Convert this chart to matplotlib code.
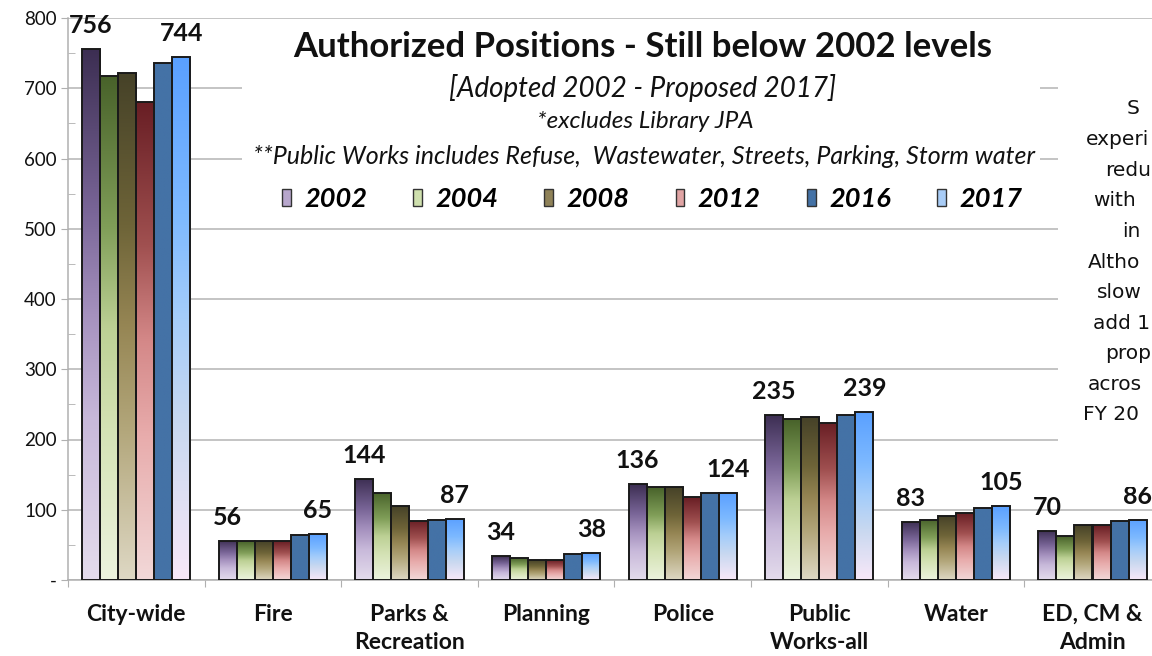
import numpy as np
import matplotlib
matplotlib.use("Agg")
import matplotlib.pyplot as plt
from matplotlib.colors import LinearSegmentedColormap
from matplotlib.patches import Rectangle, Patch

# ---------------- data ----------------
categories = ["City-wide", "Fire", "Parks &\nRecreation", "Planning", "Police",
              "Public\nWorks-all", "Water", "ED, CM &\nAdmin"]
years = ["2002", "2004", "2008", "2012", "2016", "2017"]
v2002 = [756, 56, 144, 34, 136, 235, 83, 70]
v2004 = [718, 55, 124, 31, 132, 229, 86, 62]
v2008 = [721, 55, 105, 28, 132, 232, 91, 78]
v2012 = [681, 55, 84, 28, 118, 224, 95, 78]
v2016 = [736, 64, 86, 37, 124, 235, 102, 84]
v2017 = [744, 65, 87, 38, 124, 239, 105, 86]
series = [v2002, v2004, v2008, v2012, v2016, v2017]
yticks = [0, 100, 200, 300, 400, 500, 600, 700, 800]
yticklabels = ["-", "100", "200", "300", "400", "500", "600", "700", "800"]

title = "Authorized Positions - Still below 2002 levels"
sub1 = "[Adopted 2002 - Proposed 2017]"
sub2 = "*excludes Library JPA"
sub3 = "**Public Works includes Refuse,  Wastewater, Streets, Parking, Storm water"
# visible part of the side note (the reference cuts it at the right edge)
side_lines = ["S", "experi", "redu", "with", "in", "Altho",
              "slow", "add 1", "prop", "acros", "FY 20"]

# ---------------- styles ----------------
pos = [0, 0.3, 0.5, 0.7, 1.0]  # bottom -> top
grads = [
    [(228, 220, 236), (200, 185, 218), (165, 145, 190), (120, 100, 150), (60, 46, 82)],
    [(236, 243, 222), (212, 226, 180), (188, 208, 148), (128, 158, 88), (72, 98, 42)],
    [(222, 216, 196), (178, 166, 122), (150, 134, 84), (110, 100, 56), (70, 66, 40)],
    [(242, 216, 216), (232, 172, 172), (212, 136, 136), (160, 80, 80), (104, 30, 36)],
    [(68, 114, 166), (68, 114, 166), (68, 114, 166), (68, 114, 166), (68, 114, 166)],
    [(248, 232, 248), (200, 216, 240), (165, 205, 250), (125, 185, 255), (90, 160, 255)],
]
legend_cols = ["#b7a6cc", "#cfe0ae", "#8f8258", "#e0a4a4", "#4472a6", "#a8ccf6"]

W, H = 1152, 656
fig = plt.figure(figsize=(W / 100, H / 100), dpi=100)
ax_left, ax_right, ax_top, ax_bot = 68, 68 + 8 * 136.6, 18, 580
ax = fig.add_axes([ax_left / W, 1 - ax_bot / H, (ax_right - ax_left) / W, (ax_bot - ax_top) / H])

FONT = "Lato"
bw = 0.1322
x = np.arange(len(categories))
for i, vals in enumerate(series):
    xs = x + (i - 2.5) * bw
    bars = ax.bar(xs, vals, width=bw, facecolor="none", edgecolor="#1a1a1a",
                  linewidth=1.4, zorder=3)
    cmap = LinearSegmentedColormap.from_list(
        "g%d" % i, list(zip(pos, [tuple(c / 255 for c in col) for col in grads[i]])))
    grad = np.linspace(0, 1, 256).reshape(-1, 1)
    for b in bars:
        bx, by, bwid, bh = b.get_x(), b.get_y(), b.get_width(), b.get_height()
        im = ax.imshow(grad, extent=[bx, bx + bwid, by, by + bh], origin="lower",
                       aspect="auto", cmap=cmap, vmin=0, vmax=1, zorder=2.5,
                       interpolation="bilinear")
        im.set_clip_path(b)
    if i in (0, 5):
        for b, v in zip(bars, vals):
            ax.annotate(str(v), (b.get_x() + b.get_width() / 2, v), xytext=(0, 11.5),
                        textcoords="offset points", ha="center", va="baseline",
                        fontsize=18, fontweight="bold", family=FONT, color="#111111",
                        zorder=5)

ax.set_xlim(-0.5, len(categories) - 0.5)
ax.set_ylim(0, 800)
ax.set_axisbelow(True)
ax.yaxis.grid(True, color="#b4b4b4", linewidth=1.1)
for s in ("top", "right"):
    ax.spines[s].set_visible(False)
for s in ("left", "bottom"):
    ax.spines[s].set_color("#b0b0b0")
    ax.spines[s].set_linewidth(1.1)

ax.set_yticks(yticks)
ax.set_yticklabels(yticklabels, fontsize=13.5, family=FONT, color="#111111")
ax.set_yticks(np.arange(50, 800, 100), minor=True)
ax.tick_params(axis="y", which="major", direction="out", length=5, color="#b0b0b0", pad=3)
ax.tick_params(axis="y", which="minor", direction="in", length=5, color="#b0b0b0")

ax.set_xticks(np.arange(-0.5, len(categories), 1.0))
ax.set_xticklabels([])
ax.set_xticks(x, minor=True)
ax.set_xticklabels(categories, minor=True, fontsize=16.5, fontweight="bold", family=FONT,
                   color="#111111", linespacing=1.45)
ax.tick_params(axis="x", which="major", direction="out", length=5, color="#b0b0b0")
ax.tick_params(axis="x", which="minor", length=0, pad=17)
for lab in ax.get_xticklabels(minor=True):
    lab.set_verticalalignment("top")

# white boxes covering gridlines behind the annotations
def fbox(x0, y0, x1, y1, z=1):
    ax.add_patch(Rectangle((x0 / W, 1 - y1 / H), (x1 - x0) / W, (y1 - y0) / H,
                           transform=fig.transFigure, facecolor="white",
                           edgecolor="none", zorder=z))

fbox(242, 30, 1040, 214)
fbox(1058, 72, 1200, 487, z=6)

def ftext(px, py, s, **kw):
    fig.text(px / W, 1 - py / H, s, **kw)

ftext(643, 47, title, ha="center", va="center", fontsize=25, fontweight="bold",
      family=FONT, color="#111111")
ftext(643, 88, sub1, ha="center", va="center", fontsize=20, style="italic",
      family=FONT, color="#111111")
ftext(645, 121, sub2, ha="center", va="center", fontsize=17.5, style="italic",
      family=FONT, color="#111111")
ftext(644, 157, sub3, ha="center", va="center", fontsize=18, style="italic",
      family=FONT, color="#111111")

handles = [Patch(facecolor=c, edgecolor="#333333", linewidth=1.0) for c in legend_cols]
fig.legend(handles, years, ncol=6, loc="center", bbox_to_anchor=(652 / W, 1 - 199 / H),
           frameon=False, prop={"family": FONT, "weight": "bold", "style": "italic", "size": 19.5},
           handlelength=0.32, handleheight=0.62, handletextpad=0.5, columnspacing=1.7,
           borderpad=0, borderaxespad=0)

side_x = [1127, 1086, 1105, 1093, 1122, 1088, 1097, 1093, 1105, 1088, 1083]
for k, (sx, s) in enumerate(zip(side_x, side_lines)):
    ftext(sx, 109 + 30.6 * k, s, ha="left", va="center", fontsize=14.5,
          family="DejaVu Sans", color="#111111")

fig.savefig("out.png", dpi=100)
